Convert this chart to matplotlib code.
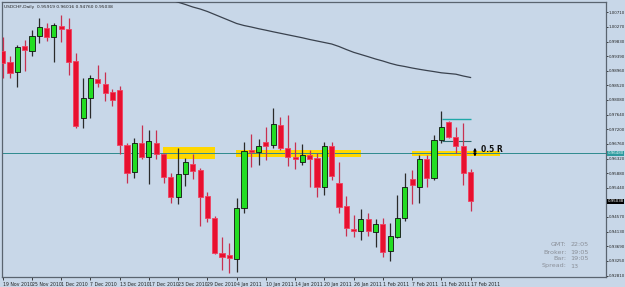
import matplotlib
matplotlib.use("Agg")
import matplotlib.pyplot as plt
from matplotlib.patches import Rectangle

# ---------------- data ----------------
date_labels = ["19 Nov 2010", "25 Nov 2010", "1 Dec 2010", "7 Dec 2010", "13 Dec 2010",
               "17 Dec 2010", "23 Dec 2010", "29 Dec 2010", "4 Jan 2011", "10 Jan 2011",
               "14 Jan 2011", "20 Jan 2011", "26 Jan 2011", "1 Feb 2011", "7 Feb 2011",
               "11 Feb 2011", "17 Feb 2011"]
date_label_bars = [0, 4, 8, 12, 16, 20, 24, 28, 32, 36, 40, 44, 48, 52, 56, 60, 64]

opens = [0.99549, 0.99219, 0.98919, 0.99699, 0.99549, 0.99999, 1.00239, 0.99969, 1.00299, 1.00209,
         0.99249, 0.97539, 0.98139, 0.98709, 0.98559, 0.98319, 0.98379, 0.96729, 0.95919, 0.96789,
         0.96369, 0.96789, 0.96459, 0.95769, 0.95169, 0.95859, 0.96159, 0.95979, 0.95199, 0.94539,
         0.93489, 0.93429, 0.93309, 0.94839, 0.96579, 0.96519, 0.96819, 0.96729, 0.97329, 0.96639,
         0.96369, 0.96219, 0.96429, 0.96339, 0.95469, 0.96699, 0.95589, 0.94899, 0.94209, 0.94149,
         0.94509, 0.94119, 0.94359, 0.93549, 0.93969, 0.94539, 0.95709, 0.95469, 0.96309, 0.95739,
         0.96879, 0.97419, 0.96969, 0.96699, 0.95919]
highs = [0.99969, 0.99399, 0.99729, 0.99879, 1.00179, 1.00539, 1.00389, 1.00389, 1.00629, 1.00539,
         0.99489, 0.98739, 0.98829, 0.99129, 0.98919, 0.98409, 0.98499, 0.96789, 0.96939, 0.97329,
         0.97179, 0.97179, 0.96489, 0.95889, 0.96639, 0.96339, 0.96459, 0.96039, 0.95319, 0.94599,
         0.93969, 0.93789, 0.95139, 0.96819, 0.97059, 0.96909, 0.97269, 0.97839, 0.97569, 0.97629,
         0.96819, 0.96759, 0.96579, 0.96489, 0.96819, 0.96819, 0.96219, 0.95199, 0.94629, 0.94809,
         0.94689, 0.94509, 0.94539, 0.94389, 0.95229, 0.95889, 0.95979, 0.96429, 0.96429, 0.97029,
         0.97749, 0.97449, 0.97269, 0.97389, 0.96016]
lows = [0.98739, 0.98739, 0.98469, 0.98949, 0.99399, 0.99789, 0.99849, 0.99219, 0.99819, 0.98829,
        0.97239, 0.97239, 0.97539, 0.98469, 0.98049, 0.97899, 0.96459, 0.95589, 0.95739, 0.96309,
        0.95559, 0.96309, 0.95589, 0.94989, 0.94959, 0.95499, 0.95709, 0.94299, 0.94419, 0.93459,
        0.92979, 0.92889, 0.92909, 0.94689, 0.96069, 0.96129, 0.96279, 0.96639, 0.96579, 0.96099,
        0.96009, 0.96129, 0.95469, 0.95169, 0.95229, 0.95679, 0.94689, 0.93999, 0.93969, 0.93879,
        0.93999, 0.93669, 0.93369, 0.93249, 0.93939, 0.94449, 0.94959, 0.94999, 0.95469, 0.95679,
        0.96789, 0.96939, 0.96489, 0.95529, 0.94760]
closes = [0.99189, 0.98889, 0.99669, 0.99579, 0.99999, 1.00269, 0.99969, 1.00329, 1.00209, 0.99219,
          0.97299, 0.98139, 0.98739, 0.98589, 0.98289, 0.98079, 0.96729, 0.95889, 0.96789, 0.96369,
          0.96849, 0.96459, 0.95769, 0.95169, 0.95859, 0.96219, 0.95949, 0.95169, 0.94539, 0.93489,
          0.93369, 0.93339, 0.94839, 0.96549, 0.96519, 0.96699, 0.96699, 0.97359, 0.96639, 0.96369,
          0.96309, 0.96429, 0.96309, 0.95469, 0.96699, 0.95799, 0.94869, 0.94239, 0.94149, 0.94509,
          0.94149, 0.94359, 0.93519, 0.93999, 0.94539, 0.95469, 0.95529, 0.96309, 0.95739, 0.96879,
          0.97269, 0.96969, 0.96699, 0.95889, 0.95038]

ma_first_bar = 23
ma_values = [1.01079, 1.01013, 1.00944, 1.00869, 1.00809, 1.00734, 1.00644, 1.00554, 1.00464, 1.00374,
             1.00314, 1.00269, 1.00218, 1.00173, 1.00125, 1.00080, 1.00035, 0.99990, 0.99945, 0.99894,
             0.99849, 0.99804, 0.99759, 0.99684, 0.99594, 0.99510, 0.99444, 0.99378, 0.99309, 0.99249,
             0.99180, 0.99123, 0.99084, 0.99039, 0.99000, 0.98964, 0.98931, 0.98895, 0.98874, 0.98853,
             0.98799, 0.98754]

price_ticks = [1.00710, 1.00270, 0.99830, 0.99390, 0.98960, 0.98520, 0.98080, 0.97640, 0.97200,
               0.96760, 0.96320, 0.95880, 0.95440, 0.94570, 0.94130, 0.93690, 0.93250, 0.92810]

# support / resistance zones (start bar, end bar, low price, high price)
zone_x0 = [21.9, 31.9, 56.0]
zone_x1 = [29.0, 49.0, 68.0]
zone_lo = [0.96309, 0.96369, 0.96408]
zone_hi = [0.96669, 0.96579, 0.96558]

hline_price = 0.96480
range_top = 0.97494
range_bot = 0.96849
range_x0, range_x1 = 60.1, 64.1
last_close = 0.95038
header = "USDCHF,Daily  0.95919 0.96016 0.94760 0.95038"
info_keys = ["GMT:", "Broker:", "Bar:", "Spread:"]
info_vals = ["22:05", "19:05", "19:05", "13"]

# ---------------- styling ----------------
BG = "#C8D7E8"
GREEN = "#22DD22"
RED = "#E8102E"
FRAME = "#5A6470"
SMALL = 3.3
YLAB = 2.85

fig = plt.figure(figsize=(6.25, 2.87), dpi=100)
fig.patch.set_facecolor(BG)
YMIN, YMAX = 0.92769, 1.01019
ax = fig.add_axes([2 / 625, 1 - 277 / 287, 604 / 625, 275 / 287])
ax.set_facecolor(BG)

n = len(opens)
xs = list(range(n))

# zones
for x0, x1, lo, hi in zip(zone_x0, zone_x1, zone_lo, zone_hi):
    ax.add_patch(Rectangle((x0, lo), x1 - x0, hi - lo, facecolor="#FFD700",
                           edgecolor="none", zorder=1))

# horizontal line
ax.axhline(hline_price, color="#2E8A8E", lw=0.7, zorder=2)

# range lines
ax.hlines([range_top], range_x0, range_x1, color="#20A8A8", lw=1.0, zorder=2)
ax.hlines([range_bot], range_x0, range_x1, color="#2E6A70", lw=0.8, zorder=2)

# MA line
ma_x = list(range(ma_first_bar, ma_first_bar + len(ma_values)))
ax.plot(ma_x, ma_values, color="#3A424E", lw=0.9, zorder=3)

# candles
for i in xs:
    o, h, l, c = opens[i], highs[i], lows[i], closes[i]
    up = c >= o
    wick_col = "#2A2A2A" if up else "#C83050"
    ax.vlines(i, l, h, color=wick_col, lw=0.9, zorder=4)
    ax.bar(i, abs(c - o) if abs(c - o) > 0.00005 else 0.00008, bottom=min(o, c), width=0.7,
           color=GREEN if up else RED, edgecolor="#101010" if up else "#F04060",
           linewidth=0.6, zorder=5)

# 0.5 R annotation
ax.annotate("", xy=(64.6, 0.96299), xytext=(64.6, 0.96729),
            arrowprops=dict(arrowstyle="<|-|>", color="black", lw=0.8,
                            mutation_scale=4), zorder=6)
ax.text(65.4, 0.96600, "0.5 R", fontsize=5.5, fontweight="bold", color="#111111",
        va="center", ha="left", zorder=6)

ax.set_xlim(-0.1, 82.53)
ax.set_ylim(YMIN, YMAX)

# axes ticks
ax.yaxis.tick_right()
ax.set_yticks(price_ticks)
ax.set_yticklabels([f"{v:.5f}" for v in price_ticks])
ax.tick_params(axis="y", direction="out", length=1.5, width=0.6, pad=0.5,
               labelsize=YLAB, colors="#222222")
ax.set_xticks(date_label_bars)
ax.set_xticklabels(date_labels)
ax.tick_params(axis="x", direction="out", length=2.5, width=0.6, pad=1.2,
               labelsize=SMALL, colors="#222222")
for lab in ax.get_xticklabels():
    lab.set_horizontalalignment("left")
for s in ax.spines.values():
    s.set_color(FRAME)
    s.set_linewidth(0.9)

# price labels on the right axis
ax.text(1.0025, (hline_price - YMIN) / (YMAX - YMIN), f"{hline_price:.5f}",
        transform=ax.transAxes, fontsize=YLAB, color="#E8F8F8", va="center", ha="left",
        bbox=dict(boxstyle="square,pad=0.12", fc="#2E9A9E", ec="none"), zorder=7)
ax.text(1.0025, (last_close - YMIN) / (YMAX - YMIN), f"{last_close:.5f}",
        transform=ax.transAxes, fontsize=YLAB, color="white", va="center", ha="left",
        bbox=dict(boxstyle="square,pad=0.12", fc="black", ec="none"), zorder=7)

# header
ax.text(0.003, 0.99, header, transform=ax.transAxes, fontsize=3.2, color="#222222",
        va="top", ha="left")

# info box
for k, (key, val) in enumerate(zip(info_keys, info_vals)):
    yy = 1 - (245 + 7 * k) / 287
    fig.text(566.5 / 625, yy, key, fontsize=4.6, color="#8A8F98", ha="right", va="center")
    fig.text(570.5 / 625, yy, val, fontsize=4.6, color="#8A8F98", ha="left", va="center")

fig.savefig("out.png", dpi=100, facecolor=BG)
